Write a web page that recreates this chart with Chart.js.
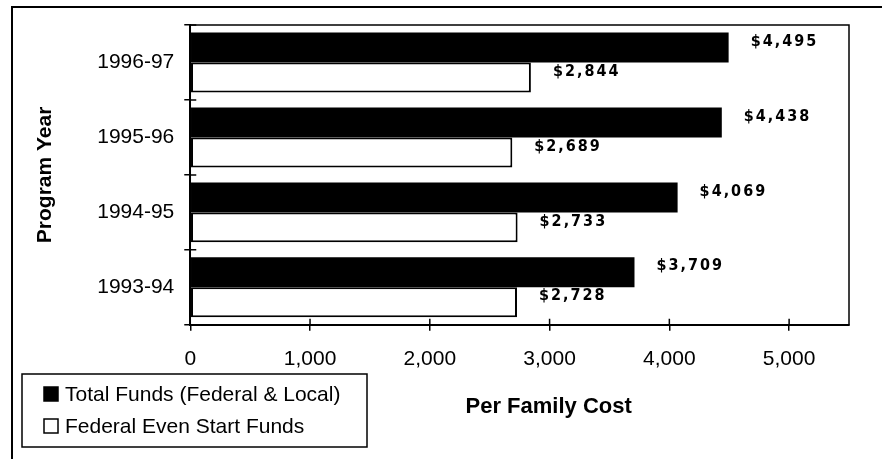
<!DOCTYPE html>
<html lang="en">
<head>
    <meta charset="UTF-8">
    <title>Per Family Cost by Program Year</title>
    <script src="https://cdn.jsdelivr.net/npm/chart.js"></script>
    <style>
        body {
            margin: 0;
            padding: 0;
            background: #fff;
        }

        .chart-box {
            position: relative;
            width: 882px;
            height: 459px;
        }
    </style>
</head>
<body>
    <div class="chart-box">
        <canvas id="costChart"></canvas>
    </div>

    <script>
        // data
        const programYears = ['1996-97', '1995-96', '1994-95', '1993-94'];
        const totalFunds = [4495, 4438, 4069, 3709];
        const federalFunds = [2844, 2689, 2733, 2728];
        const seriesNames = ['Total Funds (Federal & Local)', 'Federal Even Start Funds'];
        const costTicks = [0, 1000, 2000, 3000, 4000, 5000];

        const FONT = '"Liberation Sans", Arial, sans-serif';

        // outer frame + plot border + short tick marks inside the plot
        const framePlugin = {
            id: 'frame',
            beforeDraw(chart) {
                const ctx = chart.ctx;
                ctx.save();
                ctx.fillStyle = '#fff';
                ctx.fillRect(0, 0, chart.width, chart.height);
                ctx.strokeStyle = '#000';
                ctx.lineWidth = 2;
                ctx.beginPath();
                ctx.moveTo(12, chart.height);
                ctx.lineTo(12, 7);
                ctx.lineTo(chart.width, 7);
                ctx.stroke();
                ctx.restore();
            },
            afterDraw(chart) {
                const ctx = chart.ctx;
                const area = chart.chartArea;
                const x = chart.scales.x;
                const y = chart.scales.y;
                ctx.save();
                ctx.strokeStyle = '#000';
                ctx.lineWidth = 1.5;
                ctx.strokeRect(area.left, area.top, area.right - area.left, area.bottom - area.top);
                ctx.beginPath();
                costTicks.forEach(t => {
                    const px = x.getPixelForValue(t);
                    ctx.moveTo(px, area.bottom);
                    ctx.lineTo(px, area.bottom - 6);
                });
                for (let i = 0; i <= programYears.length; i++) {
                    const py = y.getPixelForValue(i - 0.5);
                    ctx.moveTo(area.left, py);
                    ctx.lineTo(area.left + 6, py);
                }
                ctx.stroke();
                ctx.restore();
            }
        };

        // "$4,495" style labels next to every bar
        const valueLabels = {
            id: 'valueLabels',
            afterDatasetsDraw(chart) {
                const ctx = chart.ctx;
                ctx.save();
                ctx.font = 'bold 16px "Liberation Sans Narrow", "DejaVu Sans Condensed", sans-serif';
                ctx.letterSpacing = '2px';
                ctx.fillStyle = '#000';
                ctx.textAlign = 'left';
                ctx.textBaseline = 'middle';
                chart.data.datasets.forEach((ds, di) => {
                    chart.getDatasetMeta(di).data.forEach((bar, i) => {
                        ctx.fillText('$' + ds.data[i].toLocaleString('en-US'), bar.x + 22, bar.y - 6);
                    });
                });
                ctx.restore();
            }
        };

        // boxed legend bottom-left and the x axis title
        const legendAndTitle = {
            id: 'legendAndTitle',
            afterDraw(chart) {
                const ctx = chart.ctx;
                const area = chart.chartArea;
                ctx.save();
                ctx.strokeStyle = '#000';
                ctx.lineWidth = 1.5;
                ctx.strokeRect(22, 374, 345, 73);

                ctx.font = '21px ' + FONT;
                ctx.textBaseline = 'middle';
                ctx.fillStyle = '#000';
                chart.data.datasets.forEach((ds, i) => {
                    const cy = 394 + i * 32;
                    ctx.fillStyle = ds.backgroundColor;
                    ctx.fillRect(44, cy - 7, 14, 14);
                    ctx.lineWidth = 1.5;
                    ctx.strokeRect(44, cy - 7, 14, 14);
                    ctx.fillStyle = '#000';
                    ctx.fillText(ds.label, 65, cy + 1);
                });

                ctx.font = 'bold 22px ' + FONT;
                ctx.textAlign = 'center';
                ctx.fillText('Per Family Cost', (area.left + area.right) / 2 + 29, 407);
                ctx.restore();
            }
        };

        new Chart(document.getElementById('costChart'), {
            type: 'bar',
            data: {
                labels: programYears,
                datasets: [{
                    label: seriesNames[0],
                    data: totalFunds,
                    backgroundColor: '#000',
                    borderWidth: 0
                }, {
                    label: seriesNames[1],
                    data: federalFunds,
                    backgroundColor: '#fff',
                    borderColor: '#000',
                    borderWidth: 2,
                    borderSkipped: false
                }]
            },
            options: {
                indexAxis: 'y',
                responsive: true,
                maintainAspectRatio: false,
                animation: false,
                categoryPercentage: 0.8,
                barPercentage: 1.0,
                layout: {
                    padding: { left: 28, right: 33, top: 25, bottom: 71 }
                },
                plugins: {
                    legend: { display: false },
                    tooltip: { enabled: false }
                },
                scales: {
                    x: {
                        min: 0,
                        max: 5500,
                        afterBuildTicks(scale) {
                            scale.ticks = costTicks.map(v => ({ value: v }));
                        },
                        grid: {
                            drawOnChartArea: false,
                            tickLength: 6,
                            color: '#000',
                            lineWidth: 1.5
                        },
                        border: { color: '#000', width: 2 },
                        ticks: {
                            padding: 16,
                            color: '#000',
                            font: { family: FONT, size: 21 },
                            callback: v => v.toLocaleString('en-US')
                        }
                    },
                    y: {
                        grid: {
                            drawOnChartArea: false,
                            tickLength: 6,
                            color: '#000',
                            lineWidth: 1.5
                        },
                        border: { color: '#000', width: 2 },
                        ticks: {
                            padding: 10,
                            color: '#000',
                            font: { family: FONT, size: 21 }
                        },
                        title: {
                            display: true,
                            text: 'Program Year',
                            color: '#000',
                            font: { family: FONT, size: 21, weight: 'bold' },
                            padding: { top: 5, bottom: 29 }
                        }
                    }
                }
            },
            plugins: [framePlugin, valueLabels, legendAndTitle]
        });
    </script>
</body>
</html>
